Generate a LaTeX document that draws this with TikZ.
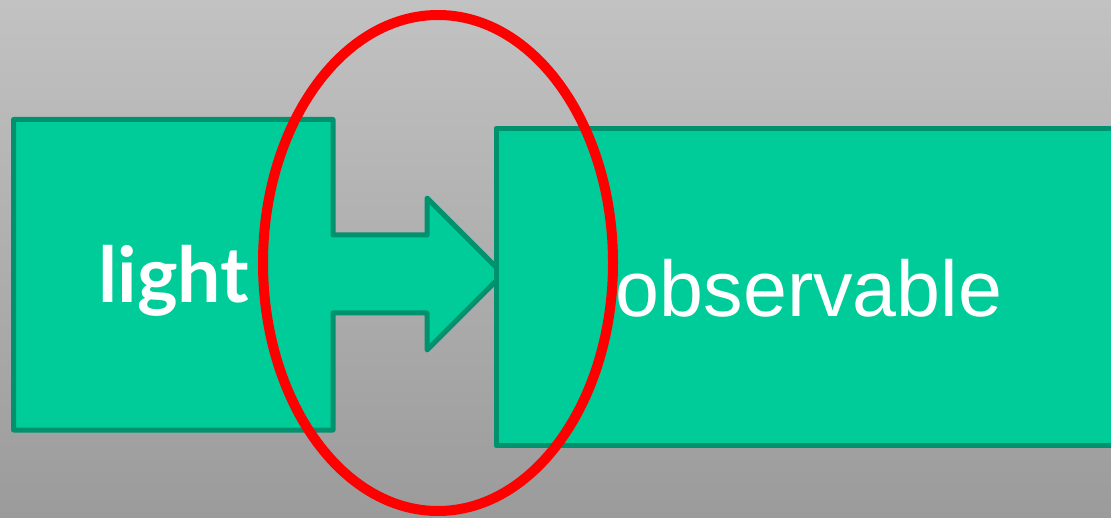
\documentclass[tikz,border=0pt]{standalone}
\usepackage{fontspec}
\setmainfont{Liberation Sans}
\newfontfamily\lightfont{Lato}
\definecolor{bgtop}{RGB}{194,194,194}
\definecolor{bgbot}{RGB}{155,155,155}
\definecolor{boxfill}{HTML}{00CC99}
\definecolor{boxline}{HTML}{00926E}
\definecolor{ringred}{HTML}{FF0000}
\tikzset{
  greenshape/.style={fill=boxfill, draw=boxline, line width=5pt, line join=round},
  ring/.style={draw=ringred, line width=10pt},
  lbltext/.style={text=white, inner sep=0pt, anchor=base},
}
\begin{document}
\begin{tikzpicture}[x=1pt,y=1pt]
\useasboundingbox (0,0) rectangle (1111,517);
\shade[top color=bgtop, bottom color=bgbot] (0,0) rectangle (1111,517);
% left box with arrow
\draw[greenshape] (13.5,397.5) -- (333,397.5) -- (333,282) -- (427,282) -- (427,319)
  -- (503,243) -- (427,167) -- (427,204) -- (333,204) -- (333,87) -- (13.5,87) -- cycle;
% right box
\draw[greenshape] (496,388.5) -- (1125,388.5) -- (1125,71.5) -- (496,71.5) -- cycle;
% labels
\node[lbltext] (light) at (174,214) {\lightfont\bfseries\fontsize{77}{81}\selectfont light};
\node[lbltext] (observable) at (809,200) {\fontsize{79}{84}\selectfont observable};
% red ellipse
\draw[ring] (438,254) ellipse [x radius=175, y radius=248];
\end{tikzpicture}
\end{document}
